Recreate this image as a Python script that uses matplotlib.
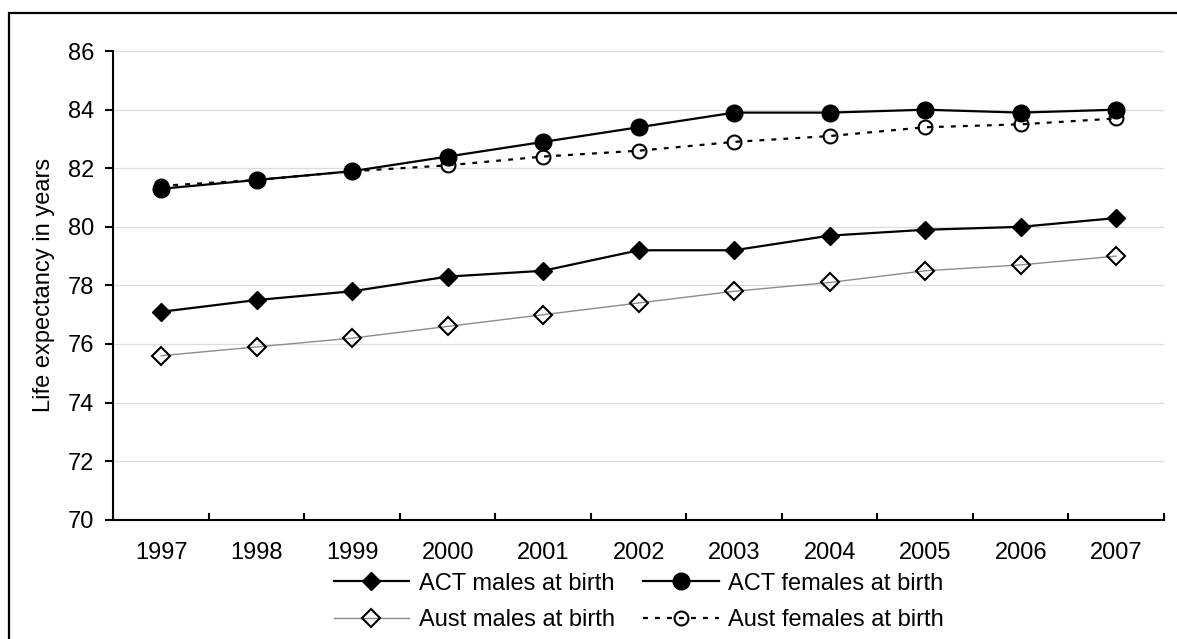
import numpy as np
import matplotlib.pyplot as plt
from matplotlib.lines import Line2D

plt.rcParams['font.family'] = ['Liberation Sans', 'DejaVu Sans']

years = ['1997', '1998', '1999', '2000', '2001', '2002', '2003', '2004', '2005', '2006', '2007']
act_males = [77.1, 77.5, 77.8, 78.3, 78.5, 79.2, 79.2, 79.7, 79.9, 80.0, 80.3]
act_females = [81.3, 81.6, 81.9, 82.4, 82.9, 83.4, 83.9, 83.9, 84.0, 83.9, 84.0]
aust_males = [75.6, 75.9, 76.2, 76.6, 77.0, 77.4, 77.8, 78.1, 78.5, 78.7, 79.0]
aust_females = [81.4, 81.6, 81.9, 82.1, 82.4, 82.6, 82.9, 83.1, 83.4, 83.5, 83.7]

x = np.arange(len(years))
fs = 17

fig = plt.figure(figsize=(11.77, 6.39), dpi=100)
ax = fig.add_axes([0.0964, 0.1867, 0.8925, 0.7333])

ax.plot(x, act_males, color='black', lw=1.6, marker='D', ms=9,
        mfc='black', mec='black', label='ACT males at birth', zorder=4)
ax.plot(x, act_females, color='black', lw=1.6, marker='o', ms=12,
        mfc='black', mec='black', label='ACT females at birth', zorder=4)
ax.plot(x, aust_males, color='#8c8c8c', lw=1.0, marker='D', ms=9,
        mfc='none', mec='black', mew=1.5, label='Aust males at birth', zorder=3)
ax.plot(x, aust_females, color='black', lw=1.6, ls=(0, (2.2, 3.2)), marker='o', ms=10,
        mfc='none', mec='black', mew=1.5, label='Aust females at birth', zorder=3)

ax.set_xlim(-0.5, len(years) - 0.5)
ax.set_ylim(70, 86)
ax.set_yticks(np.arange(70, 87, 2))
ax.set_xticks(x)
ax.set_xticklabels(years)
ax.set_xticks(np.arange(-0.5, len(years), 1), minor=True)

ax.grid(axis='y', color='#dddddd', lw=0.9)
ax.set_axisbelow(True)
for side in ['top', 'right']:
    ax.spines[side].set_visible(False)
for side in ['left', 'bottom']:
    ax.spines[side].set_linewidth(1.5)

ax.tick_params(axis='y', direction='out', length=6, width=1.5, pad=8, labelsize=fs)
ax.tick_params(axis='x', which='major', length=0, pad=16, labelsize=fs)
ax.tick_params(axis='x', which='minor', direction='in', length=5, width=1.5)

ax.set_ylabel('Life expectancy in years', fontsize=fs)
ax.yaxis.set_label_coords(-0.056, 0.5)

handles, labels = ax.get_legend_handles_labels()
order = [0, 2, 1, 3]
ax.legend([handles[i] for i in order], [labels[i] for i in order],
          ncol=2, loc='upper center', bbox_to_anchor=(0.5, -0.088),
          frameon=False, fontsize=fs, handlelength=3.2, handletextpad=0.4,
          columnspacing=1.2, labelspacing=0.6, borderpad=0, numpoints=1)

# outer chart border: left and top edges, running off the figure
bx, by = 9 / 1177, 1 - 13 / 639
fig.add_artist(Line2D([bx, bx, 1.01], [-0.01, by, by], transform=fig.transFigure,
                      color='black', lw=1.6, solid_joinstyle='miter'))

fig.savefig('out.png', dpi=100)
